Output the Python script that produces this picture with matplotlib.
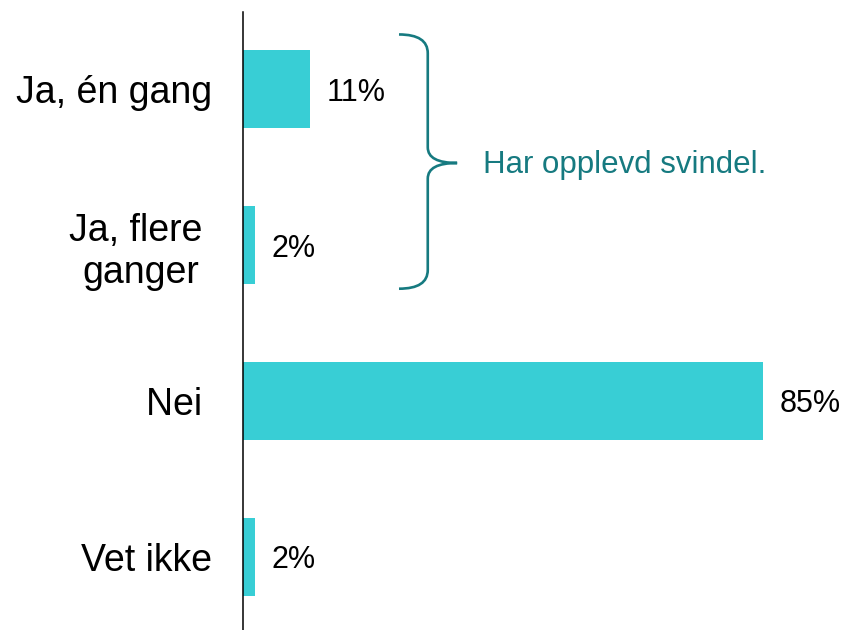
import matplotlib.pyplot as plt
from matplotlib.path import Path
from matplotlib.patches import PathPatch

# data
categories = ['Ja, én gang', 'Ja, flere \nganger', 'Nei ', 'Vet ikke']
values = [11, 2, 85, 2]
value_labels = ['11%', '2%', '85%', '2%']
brace_text = 'Har opplevd svindel.'

bar_color = '#38CED5'
brace_color = '#167A80'

plt.rcParams['font.family'] = ['Liberation Sans', 'DejaVu Sans']

fig = plt.figure(figsize=(8.46, 6.30), dpi=100)
ax = fig.add_axes([243 / 846, 0, 1 - 243 / 846, 1 - 12 / 630])

ypos = list(range(len(categories)))
ax.barh(ypos, values, height=0.5, color=bar_color)

ax.set_ylim(3.468, -0.494)
ax.set_xlim(0, (846 - 243) / 6.118)

ax.set_yticks(ypos)
ax.set_yticklabels(categories, fontsize=27, multialignment='center')
ax.tick_params(axis='y', length=0, pad=22)
ax.set_xticks([])
for side in ['top', 'right', 'bottom']:
    ax.spines[side].set_visible(False)
ax.spines['left'].set_linewidth(1.1)
ax.spines['left'].set_color('black')

# value labels next to the bars
for y, v, lab in zip(ypos, values, value_labels):
    ax.annotate(lab, (v, y), xytext=(12, -2.5), textcoords='offset points',
                va='center', ha='left', fontsize=22)

# curly brace over the two "Ja" rows
top, bottom, tip = -0.35, 1.28, 0.474
x0, xs, xt = 25.5, 30.2, 35.0
r1, r2 = 0.12, 0.10
verts = [(x0, top), (xs, top), (xs, top + r1),
         (xs, tip - r2), (xs, tip), (xt, tip),
         (xs, tip), (xs, tip + r2),
         (xs, bottom - r1), (xs, bottom), (x0, bottom)]
codes = [Path.MOVETO, Path.CURVE3, Path.CURVE3,
         Path.LINETO, Path.CURVE3, Path.CURVE3,
         Path.CURVE3, Path.CURVE3,
         Path.LINETO, Path.CURVE3, Path.CURVE3]
ax.add_patch(PathPatch(Path(verts, codes), fill=False, edgecolor=brace_color,
                       linewidth=1.9, clip_on=False))
ax.text(39.2, tip + 0.015, brace_text, color=brace_color, fontsize=22.5,
        va='center', ha='left')

plt.savefig('out.png', dpi=100)
